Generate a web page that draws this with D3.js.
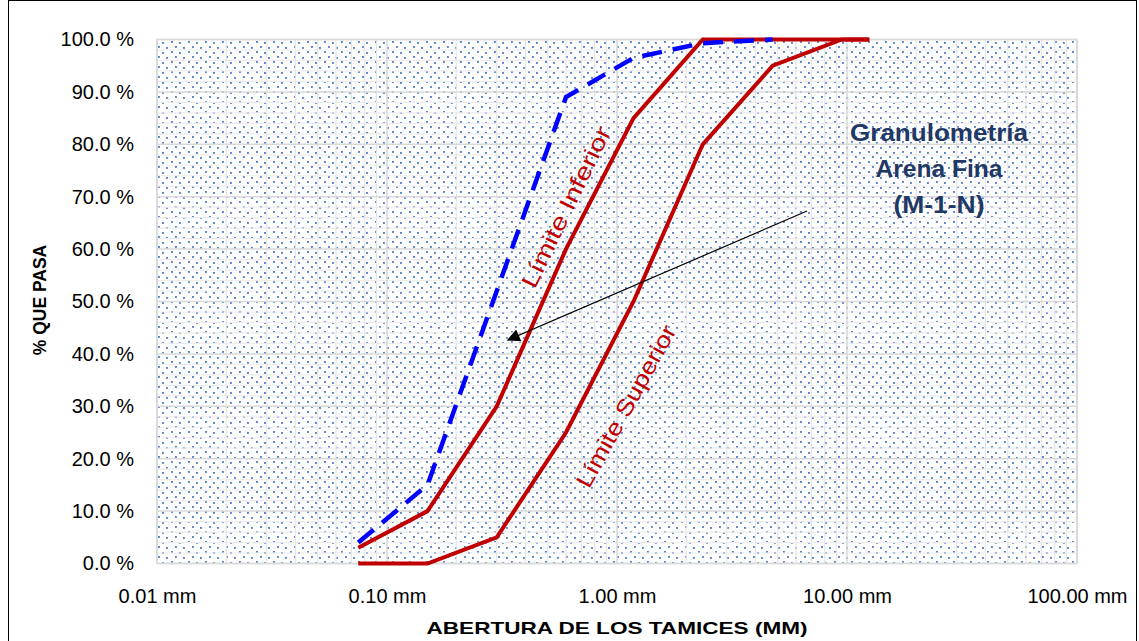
<!DOCTYPE html>
<html>
<head>
<meta charset="utf-8">
<script src="https://cdn.jsdelivr.net/npm/d3@7"></script>
<style>
  body { margin: 0; background: #fff; }
  svg { display: block; font-family: "Liberation Sans", Arial, sans-serif; }
</style>
</head>
<body>
<svg id="chart" width="1139" height="641"></svg>
<script>
const width = 1139, height = 641;

// sieve openings (mm) and % passing
const sieves = [0.075, 0.15, 0.3, 0.6, 1.18, 2.36, 4.75, 9.5, 12.5];
const limInferior = [3, 10, 30, 60, 85, 100, 100, 100, 100];
const limSuperior = [0, 0, 5, 25, 50, 80, 95, 100, 100];
const sampleSieves = [0.075, 0.15, 0.3, 0.6, 1.18, 2.36, 4.75];
const samplePass = [4, 15, 52, 89, 96.5, 99.3, 100];

const xTicks = [0.01, 0.1, 1, 10, 100];
const yTicks = [0, 10, 20, 30, 40, 50, 60, 70, 80, 90, 100];

const plot = { left: 157, right: 1077, top: 39.5, bottom: 563.5 };

const x = d3.scaleLog().domain([0.01, 100]).range([plot.left, plot.right]);
const y = d3.scaleLinear().domain([0, 100]).range([plot.bottom, plot.top]);

const svg = d3.select("#chart");
const defs = svg.append("defs");

// dotted fill like the excel pattern
const pat = defs.append("pattern").attr("id", "dots").attr("patternUnits", "userSpaceOnUse")
  .attr("width", 17).attr("height", 10);
pat.append("rect").attr("width", 17).attr("height", 10).attr("fill", "#fff");
[[1, 1], [9, 2], [5, 6], [13, 7]].forEach(d => {
  pat.append("rect").attr("x", d[0]).attr("y", d[1]).attr("width", 1.9).attr("height", 1.9)
    .attr("fill", "#4472c4").attr("opacity", 0.9);
});

defs.append("marker").attr("id", "arrow").attr("viewBox", "0 0 10 10")
  .attr("refX", 9).attr("refY", 5).attr("markerWidth", 17).attr("markerHeight", 13)
  .attr("markerUnits", "userSpaceOnUse").attr("orient", "auto")
  .append("path").attr("d", "M0,0 L10,5 L0,10 z").attr("fill", "#000");

// outer frame
svg.append("rect").attr("x", 8.5).attr("y", 0.5).attr("width", 1128).attr("height", 660)
  .attr("fill", "none").attr("stroke", "#000").attr("stroke-width", 1);

// plot area
svg.append("rect").attr("x", plot.left).attr("y", plot.top)
  .attr("width", plot.right - plot.left).attr("height", plot.bottom - plot.top)
  .attr("fill", "url(#dots)");

// minor gridlines
const minorX = [];
[0.01, 0.1, 1, 10].forEach(d => { for (let k = 2; k <= 9; k++) minorX.push(d * k); });
const minorY = d3.range(0, 101, 2).filter(v => v % 10 !== 0);

const grid = svg.append("g");
grid.selectAll(".mx").data(minorX).join("line")
  .attr("x1", d => x(d)).attr("x2", d => x(d)).attr("y1", plot.top).attr("y2", plot.bottom)
  .attr("stroke", "#e6e6e6").attr("stroke-width", 1.2);
grid.selectAll(".my").data(minorY).join("line")
  .attr("x1", plot.left).attr("x2", plot.right).attr("y1", d => y(d)).attr("y2", d => y(d))
  .attr("stroke", "#ececec").attr("stroke-width", 1.2);
grid.selectAll(".Mx").data(xTicks).join("line")
  .attr("x1", d => x(d)).attr("x2", d => x(d)).attr("y1", plot.top).attr("y2", plot.bottom)
  .attr("stroke", "#d9d9d9").attr("stroke-width", 1.5);
grid.selectAll(".My").data(yTicks).join("line")
  .attr("x1", plot.left).attr("x2", plot.right).attr("y1", d => y(d)).attr("y2", d => y(d))
  .attr("stroke", "#d9d9d9").attr("stroke-width", 1.5);

svg.append("rect").attr("x", plot.left).attr("y", plot.top)
  .attr("width", plot.right - plot.left).attr("height", plot.bottom - plot.top)
  .attr("fill", "none").attr("stroke", "#d9d9d9").attr("stroke-width", 1.5);

// axes (labels only)
const yAxis = svg.append("g").attr("transform", `translate(${plot.left - 20},0)`)
  .call(d3.axisLeft(y).tickValues(yTicks).tickSize(0).tickFormat(d => d3.format(".1f")(d) + " %"));
const xAxis = svg.append("g").attr("transform", `translate(0,${plot.bottom + 22})`)
  .call(d3.axisBottom(x).tickValues(xTicks).tickSize(0).tickFormat(d => d.toFixed(2) + " mm"));
[yAxis, xAxis].forEach(a => {
  a.select(".domain").remove();
  a.selectAll("text").attr("font-family", "Liberation Sans, Arial, sans-serif")
    .attr("font-size", 20).attr("fill", "#000");
});

// curves
const line = d3.line().x(d => x(d[0])).y(d => y(d[1]));

svg.append("path").datum(sieves.map((s, i) => [s, limSuperior[i]]))
  .attr("d", line).attr("fill", "none").attr("stroke", "#c00000").attr("stroke-width", 4);
svg.append("path").datum(sieves.map((s, i) => [s, limInferior[i]]))
  .attr("d", line).attr("fill", "none").attr("stroke", "#c00000").attr("stroke-width", 4);
svg.append("path").datum(sampleSieves.map((s, i) => [s, samplePass[i]]))
  .attr("d", line).attr("fill", "none").attr("stroke", "#0000ff").attr("stroke-width", 4.5)
  .attr("stroke-dasharray", "20,11");

// rotated curve labels
svg.append("text").attr("transform", "translate(566,207) rotate(-64)")
  .attr("text-anchor", "middle").attr("dy", "0.35em").attr("font-size", 23)
  .attr("fill", "#c00000").attr("textLength", 176).attr("lengthAdjust", "spacingAndGlyphs")
  .text("Límite Inferior");
svg.append("text").attr("transform", "translate(626,406) rotate(-61)")
  .attr("text-anchor", "middle").attr("dy", "0.35em").attr("font-size", 23)
  .attr("fill", "#c00000").attr("textLength", 182).attr("lengthAdjust", "spacingAndGlyphs")
  .text("Límite Superior");

// annotation
const noteLines = ["Granulometría", "Arena Fina", "(M-1-N)"];
const noteWidths = [178, 127, 91];
svg.append("g").selectAll("text").data(noteLines).join("text")
  .attr("x", 939).attr("y", (d, i) => 141 + i * 36)
  .attr("text-anchor", "middle").attr("font-size", 23).attr("font-weight", "bold")
  .attr("fill", "#1f3864")
  .attr("textLength", (d, i) => noteWidths[i]).attr("lengthAdjust", "spacingAndGlyphs")
  .text(d => d);

svg.append("line").attr("x1", 807).attr("y1", 211).attr("x2", 508).attr("y2", 340)
  .attr("stroke", "#000").attr("stroke-width", 1.2).attr("marker-end", "url(#arrow)");

// axis titles
svg.append("text").attr("x", 617).attr("y", 634).attr("text-anchor", "middle")
  .attr("font-size", 17).attr("font-weight", "bold")
  .attr("textLength", 381).attr("lengthAdjust", "spacingAndGlyphs")
  .text("ABERTURA DE LOS TAMICES (MM)");
svg.append("text").attr("transform", "translate(46,300) rotate(-90)")
  .attr("text-anchor", "middle").attr("font-size", 17.5).attr("font-weight", "bold")
  .text("% QUE PASA");
</script>
</body>
</html>
